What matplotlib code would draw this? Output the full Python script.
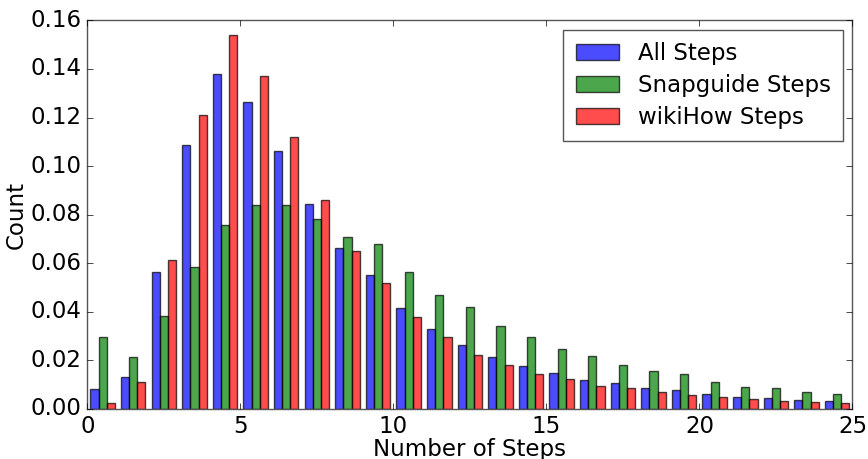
import matplotlib
matplotlib.use("Agg")
import matplotlib.pyplot as plt
import numpy as np

bins = list(range(25))
all_steps = [0.0081, 0.0132, 0.0564, 0.1085, 0.1380, 0.1263, 0.1064, 0.0844, 0.0663, 0.0551,
             0.0414, 0.0331, 0.0264, 0.0214, 0.0175, 0.0148, 0.0121, 0.0106, 0.0088, 0.0077,
             0.0063, 0.0051, 0.0044, 0.0038, 0.0033]
snapguide = [0.0296, 0.0212, 0.0381, 0.0586, 0.0757, 0.0838, 0.0841, 0.0784, 0.0709, 0.0680,
             0.0562, 0.0471, 0.0418, 0.0342, 0.0298, 0.0245, 0.0220, 0.0183, 0.0157, 0.0142,
             0.0113, 0.0092, 0.0088, 0.0071, 0.0060]
wikihow = [0.0025, 0.0111, 0.0612, 0.1212, 0.1540, 0.1369, 0.1120, 0.0859, 0.0652, 0.0517,
           0.0377, 0.0296, 0.0224, 0.0183, 0.0143, 0.0124, 0.0095, 0.0085, 0.0071, 0.0059,
           0.0051, 0.0041, 0.0034, 0.0030, 0.0026]
labels = ["All Steps", "Snapguide Steps", "wikiHow Steps"]
colors = ["b", "g", "r"]

plt.style.use("classic")
plt.rcParams["font.family"] = "DejaVu Sans"

fig = plt.figure(figsize=(8.68, 4.59), dpi=100)
ax = fig.add_axes([0.1006, 0.109, 0.8815, 0.8466])

series = [all_steps, snapguide, wikihow]
w = 0.8 / 3
x = np.array(bins, dtype=float)
for k, (vals, lab, c) in enumerate(zip(series, labels, colors)):
    ax.bar(x + 0.1 + (k + 0.5) * w, vals, width=w, color=c, alpha=0.7,
           edgecolor="black", linewidth=1.0, label=lab, align="center")

ax.set_xlim(0, 25)
ax.set_ylim(0, 0.16)
ax.set_yticks(np.arange(0, 0.161, 0.02))
ax.set_xticks([0, 5, 10, 15, 20, 25])
ax.tick_params(labelsize=16.5, pad=4)
ax.set_xlabel("Number of Steps", fontsize=16.5, labelpad=0)
ax.set_ylabel("Count", fontsize=16.5, labelpad=2)
for s in ax.spines.values():
    s.set_color("#555555")
leg = ax.legend(loc="upper right", fontsize=16.5, frameon=True, borderpad=0.55,
                handlelength=1.9, labelspacing=0.38, borderaxespad=0.4)
leg.get_frame().set_edgecolor("#555555")

fig.savefig("out.png", dpi=100)
